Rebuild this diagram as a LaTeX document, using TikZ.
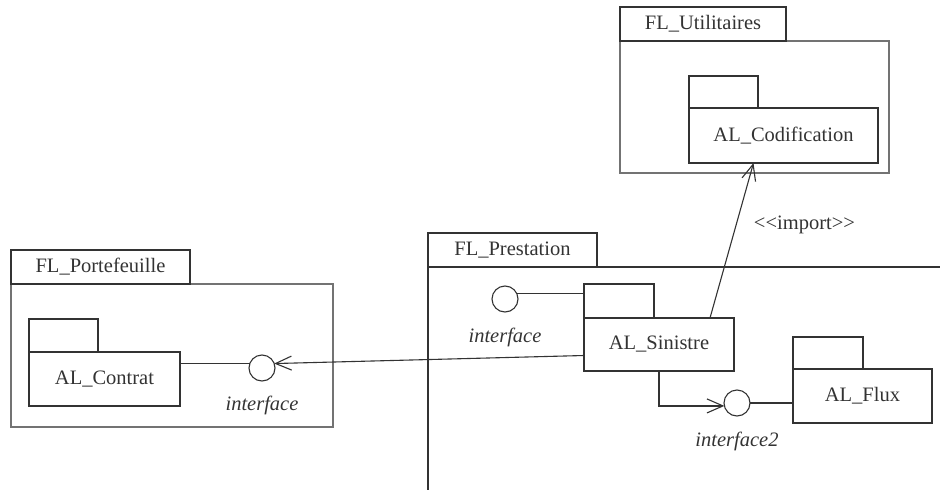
\documentclass[tikz,border=0pt]{standalone}
\usepackage{fontspec}
\setmainfont{Liberation Serif}
\usetikzlibrary{arrows.meta, positioning}

\begin{document}
\begin{tikzpicture}[x=1pt, y=-1pt, line width=1.1pt, draw=black!80, text=black!80,
	font=\fontsize{20.5}{24}\selectfont,
	box/.style = {draw, rectangle, inner sep=0pt, outer sep=0pt},
	tab/.style = {box, anchor=south west},
	frame/.style = {draw=black!55, line width=1.1pt},
	iface/.style = {draw, circle, minimum size=26pt, inner sep=0pt, outer sep=0pt},
	lbl/.style = {inner sep=0pt, font=\fontsize{20.5}{24}\selectfont\itshape},
	open/.style = {-{Straight Barb[length=16pt, width=14pt, line width=1.1pt]}}]
	\useasboundingbox (0,0) rectangle (940,490);
	% FL_Utilitaires
	\draw[frame] (620,41) rectangle (889,173);
	\node[box, minimum width=166pt, minimum height=34pt] (utilTab) at (703,24) {FL\_Utilitaires};
	\node[box, minimum width=189pt, minimum height=55pt] (cod) at (783.5,135.5) {AL\_Codification};
	\node[tab, minimum width=69pt, minimum height=32pt] (codTab) at (cod.north west) {};
	% FL_Portefeuille
	\draw[frame] (11,284) rectangle (333,427);
	\node[box, minimum width=179pt, minimum height=34pt] (portTab) at (100.5,267) {FL\_Portefeuille};
	\node[box, minimum width=151pt, minimum height=54pt] (con) at (104.5,379) {AL\_Contrat};
	\node[tab, minimum width=69pt, minimum height=33pt] (conTab) at (con.north west) {};
	\node[iface] (ifC) at (262,368) {};
	\node[lbl] (ifCl) at ([yshift=-37pt]ifC) {interface};
	% FL_Prestation
	\node[box, minimum width=169pt, minimum height=34pt] (presTab) at (512.5,250) {FL\_Prestation};
	\coordinate (presEnd) at (940,267);
	\coordinate (presLow) at (428,490);
	\draw (presTab.south west) -- (presEnd);
	\draw (presTab.south west) -- (presLow);
	\node[box, minimum width=150pt, minimum height=53pt] (sin) at (659,344.5) {AL\_Sinistre};
	\node[tab, minimum width=70pt, minimum height=34pt] (sinTab) at (sin.north west) {};
	\node[box, minimum width=139pt, minimum height=54pt] (flux) at (862.5,396) {AL\_Flux};
	\node[tab, minimum width=70pt, minimum height=32pt] (fluxTab) at (flux.north west) {};
	\node[iface] (ifS) at (505,299) {};
	\node[lbl] (ifSl) at ([yshift=-38pt]ifS) {interface};
	\node[iface] (ifF) at (737,403) {};
	\node[lbl] (ifFl) at ([yshift=-38pt]ifF) {interface2};
	% connectors
	\draw (ifC.160) -- (ifC.160 -| con.east);
	\draw (ifS.25) -- (ifS.25 -| sinTab.west);
	\draw (ifF.east) -- (ifF.east -| flux.west);
	\draw[open] ([yshift=-11pt]sin.west) -- (ifC.20);
	\draw[open] ([xshift=51pt]sin.north) -- node[right=14pt, pos=0.6] {<{}<import>{}>} ([xshift=-30pt]cod.south);
	\draw[open, line width=1.7pt] (sin.south) |- (ifF.193);
\end{tikzpicture}
\end{document}
